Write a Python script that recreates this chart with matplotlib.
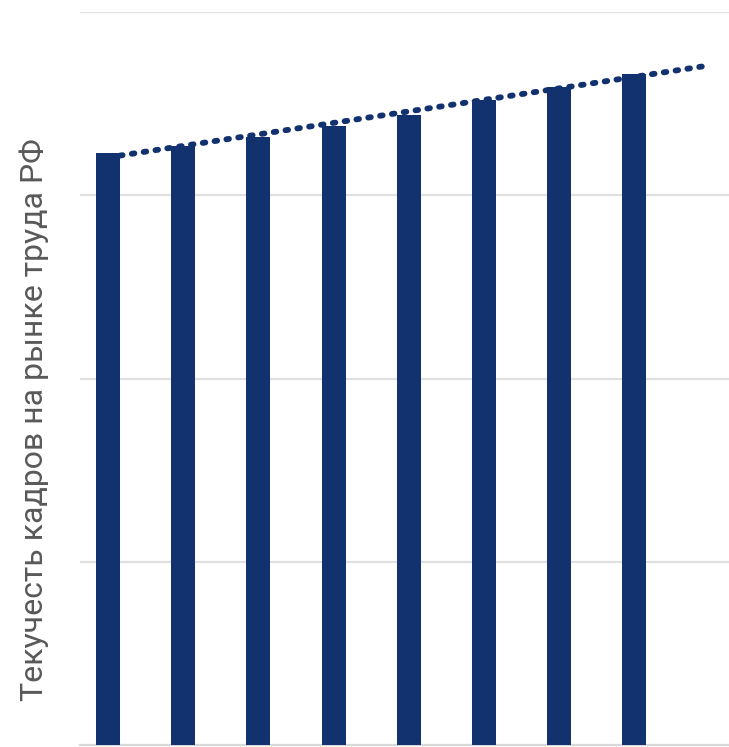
import numpy as np
import matplotlib
matplotlib.use("Agg")
from matplotlib import pyplot as plt

# turnover index by period (arbitrary units, grid step = 10)
periods = np.arange(8)
turnover = [32.3, 32.7, 33.2, 33.8, 34.4, 35.2, 35.9, 36.6]
grid_levels = [10, 20, 30, 40]
ylabel = "Текучесть кадров на рынке труда РФ"

BAR_COLOR = "#12316f"
GRID_COLOR = "#e0e0e0"


def main():
    fig = plt.figure(figsize=(7.29, 7.47), dpi=100)
    ax = fig.add_axes([80 / 729, 2 / 747, 660 / 729, 733 / 747])

    # linear trend, forecast one period ahead
    k, b = np.polyfit(periods, turnover, 1)
    xt = np.linspace(0, 8.0, 200)
    ax.plot(xt, k * xt + b, color=BAR_COLOR, lw=4.2,
            linestyle=(0, (0.45, 1.6)), dash_capstyle="round", zorder=2)

    ax.bar(periods, turnover, width=0.32, color=BAR_COLOR, zorder=3)

    for g in grid_levels:
        ax.axhline(g, color=GRID_COLOR, lw=1.6, zorder=1)

    ax.set_xlim(-0.375, 8.41)
    ax.set_ylim(0, 40)
    for s in ["top", "right", "left"]:
        ax.spines[s].set_visible(False)
    ax.spines["bottom"].set_color("#d9d9d9")
    ax.spines["bottom"].set_linewidth(1.6)
    ax.set_xticks([])
    ax.set_yticks([])

    fig.text(34 / 729, 1 - 420 / 747, ylabel, rotation=90, ha="center",
             va="center", fontsize=23, color="#595959", family="Roboto")

    fig.savefig("out.png", dpi=100)


if __name__ == "__main__":
    main()
